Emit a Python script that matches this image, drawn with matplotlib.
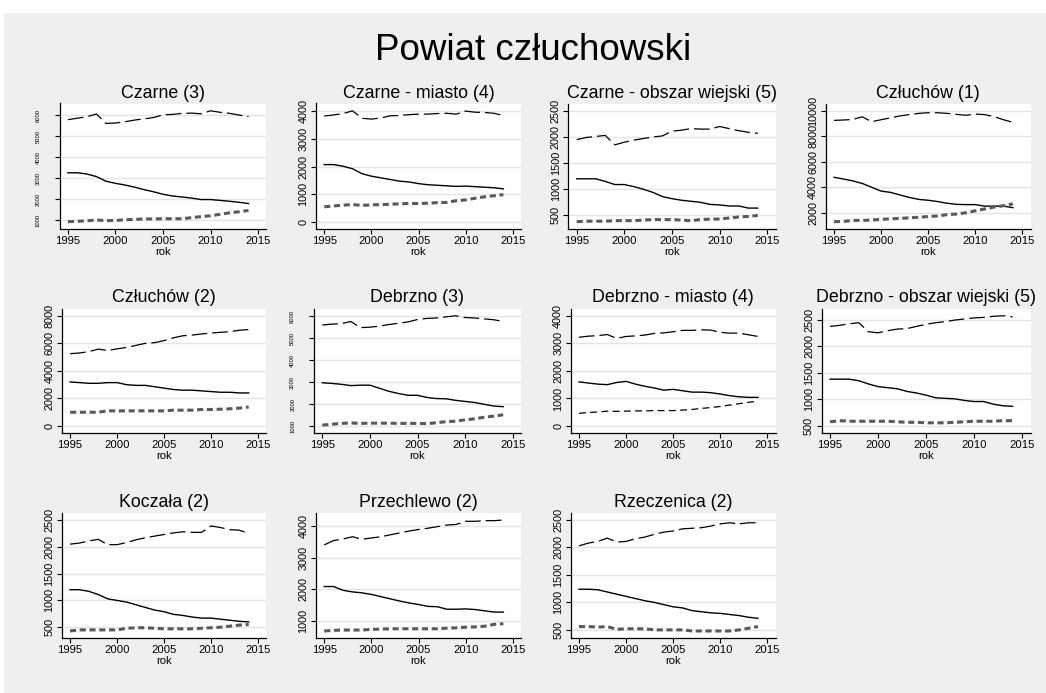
import matplotlib
matplotlib.use("Agg")
import matplotlib.pyplot as plt
from matplotlib.patches import Rectangle

plt.rcParams["font.family"] = ["Liberation Sans", "DejaVu Sans"]

years = list(range(1995, 2015))
x_ticks = [1995, 2000, 2005, 2010, 2015]

titles = ["Czarne (3)", "Czarne - miasto (4)", "Czarne - obszar wiejski (5)", "Człuchów (1)",
          "Człuchów (2)", "Debrzno (3)", "Debrzno - miasto (4)", "Debrzno - obszar wiejski (5)",
          "Koczała (2)", "Przechlewo (2)", "Rzeczenica (2)"]

# working age (long dash), pre-working (solid), post-working (short dash)
czarne3_top = [5780, 5850, 5920, 6050, 5600, 5620, 5680, 5760, 5820, 5880, 6010, 6030, 6080, 6090, 6060, 6200, 6130, 6080, 6000, 5930]
czarne3_mid = [3260, 3260, 3200, 3080, 2860, 2760, 2680, 2580, 2460, 2360, 2240, 2160, 2110, 2060, 1990, 1990, 1950, 1910, 1860, 1800]
czarne3_low = [940, 960, 980, 1020, 990, 1000, 1030, 1050, 1070, 1070, 1080, 1080, 1080, 1130, 1180, 1220, 1290, 1360, 1410, 1470]

czarne4_top = [3830, 3870, 3920, 4020, 3750, 3720, 3760, 3840, 3850, 3880, 3900, 3900, 3920, 3930, 3900, 4010, 3970, 3960, 3930, 3850]
czarne4_mid = [2070, 2070, 2010, 1920, 1740, 1650, 1590, 1530, 1470, 1440, 1380, 1340, 1320, 1300, 1280, 1290, 1270, 1250, 1230, 1190]
czarne4_low = [540, 570, 600, 620, 590, 610, 620, 630, 650, 660, 660, 670, 690, 700, 760, 790, 850, 900, 940, 980]

czarne5_top = [1950, 1990, 2010, 2030, 1850, 1900, 1940, 1970, 2000, 2020, 2110, 2130, 2160, 2150, 2150, 2200, 2160, 2120, 2090, 2070]
czarne5_mid = [1200, 1200, 1200, 1150, 1090, 1090, 1050, 1000, 940, 860, 820, 790, 770, 750, 710, 700, 680, 680, 640, 640]
czarne5_low = [380, 390, 390, 390, 400, 400, 400, 410, 420, 420, 420, 410, 400, 420, 430, 430, 450, 470, 480, 500]

czluchow1_top = [9250, 9280, 9320, 9530, 9150, 9300, 9450, 9600, 9700, 9800, 9850, 9850, 9800, 9720, 9650, 9750, 9700, 9550, 9300, 9100]
czluchow1_mid = [4780, 4650, 4500, 4300, 4000, 3700, 3600, 3400, 3200, 3050, 2980, 2880, 2750, 2660, 2640, 2640, 2520, 2520, 2520, 2400]
czluchow1_low = [1300, 1320, 1400, 1400, 1430, 1480, 1520, 1560, 1600, 1650, 1700, 1750, 1850, 1900, 2000, 2150, 2300, 2450, 2550, 2700]

czluchow2_top = [5250, 5300, 5400, 5580, 5480, 5600, 5700, 5850, 6000, 6050, 6200, 6400, 6550, 6600, 6680, 6750, 6800, 6850, 6950, 7000]
czluchow2_mid = [3200, 3150, 3100, 3100, 3150, 3150, 3000, 2950, 2950, 2850, 2750, 2650, 2600, 2600, 2550, 2500, 2450, 2450, 2400, 2400]
czluchow2_low = [1000, 1000, 1000, 1000, 1100, 1100, 1100, 1100, 1100, 1100, 1100, 1150, 1150, 1150, 1200, 1200, 1220, 1250, 1300, 1380]

debrzno3_top = [5600, 5640, 5660, 5760, 5480, 5500, 5550, 5620, 5680, 5740, 5850, 5900, 5920, 5970, 6020, 5940, 5920, 5880, 5840, 5760]
debrzno3_mid = [2970, 2940, 2900, 2840, 2860, 2860, 2720, 2580, 2480, 2400, 2400, 2300, 2250, 2240, 2170, 2120, 2070, 1990, 1910, 1880]
debrzno3_low = [1040, 1080, 1120, 1140, 1120, 1130, 1130, 1130, 1120, 1120, 1120, 1110, 1150, 1200, 1220, 1280, 1330, 1400, 1450, 1510]

debrzno4_top = [3220, 3260, 3280, 3320, 3180, 3250, 3270, 3300, 3360, 3380, 3420, 3470, 3470, 3490, 3480, 3400, 3370, 3370, 3310, 3250]
debrzno4_mid = [1600, 1560, 1520, 1500, 1580, 1620, 1520, 1440, 1380, 1300, 1330, 1280, 1230, 1230, 1210, 1160, 1100, 1060, 1040, 1040]
debrzno4_low = [460, 490, 510, 540, 530, 540, 550, 550, 560, 560, 560, 580, 600, 640, 670, 710, 760, 810, 860, 900]

debrzno5_top = [2370, 2390, 2420, 2440, 2270, 2250, 2290, 2320, 2330, 2370, 2410, 2440, 2460, 2490, 2510, 2530, 2540, 2560, 2570, 2550]
debrzno5_mid = [1380, 1380, 1380, 1350, 1290, 1240, 1220, 1200, 1150, 1120, 1080, 1030, 1020, 1010, 980, 960, 960, 910, 880, 870]
debrzno5_low = [580, 600, 590, 590, 590, 590, 590, 580, 570, 570, 560, 560, 560, 570, 580, 590, 590, 590, 600, 600]

koczala_top = [2050, 2070, 2110, 2140, 2040, 2040, 2080, 2130, 2170, 2200, 2230, 2260, 2280, 2270, 2270, 2390, 2360, 2320, 2310, 2250]
koczala_mid = [1200, 1200, 1170, 1110, 1030, 1000, 970, 920, 870, 820, 790, 740, 720, 690, 670, 670, 650, 630, 610, 600]
koczala_low = [430, 450, 450, 450, 450, 450, 480, 490, 490, 480, 470, 470, 470, 470, 480, 490, 500, 520, 540, 550]

przechlewo_top = [3400, 3540, 3590, 3660, 3580, 3620, 3660, 3720, 3780, 3840, 3890, 3930, 3980, 4030, 4050, 4150, 4150, 4170, 4170, 4190]
przechlewo_mid = [2080, 2080, 1960, 1910, 1880, 1830, 1760, 1690, 1620, 1560, 1510, 1450, 1440, 1360, 1360, 1370, 1350, 1310, 1270, 1270]
przechlewo_low = [670, 690, 700, 700, 700, 720, 730, 740, 740, 740, 740, 740, 740, 760, 770, 790, 800, 820, 880, 900]

rzeczenica_top = [2030, 2080, 2110, 2170, 2100, 2110, 2160, 2190, 2240, 2280, 2300, 2340, 2350, 2360, 2390, 2430, 2450, 2430, 2450, 2450]
rzeczenica_mid = [1240, 1240, 1230, 1190, 1150, 1110, 1070, 1030, 1000, 960, 920, 900, 850, 830, 810, 800, 780, 760, 730, 710]
rzeczenica_low = [560, 560, 550, 560, 510, 520, 520, 520, 500, 500, 500, 500, 480, 480, 480, 480, 480, 500, 530, 560]

y_ticks = [
    [1000, 2000, 3000, 4000, 5000, 6000],
    [0, 1000, 2000, 3000, 4000],
    [500, 1000, 1500, 2000, 2500],
    [2000, 4000, 6000, 8000, 10000],
    [0, 2000, 4000, 6000, 8000],
    [1000, 2000, 3000, 4000, 5000, 6000],
    [0, 1000, 2000, 3000, 4000],
    [500, 1000, 1500, 2000, 2500],
    [500, 1000, 1500, 2000, 2500],
    [1000, 2000, 3000, 4000],
    [500, 1000, 1500, 2000, 2500],
]

series = [
    (czarne3_top, czarne3_mid, czarne3_low),
    (czarne4_top, czarne4_mid, czarne4_low),
    (czarne5_top, czarne5_mid, czarne5_low),
    (czluchow1_top, czluchow1_mid, czluchow1_low),
    (czluchow2_top, czluchow2_mid, czluchow2_low),
    (debrzno3_top, debrzno3_mid, debrzno3_low),
    (debrzno4_top, debrzno4_mid, debrzno4_low),
    (debrzno5_top, debrzno5_mid, debrzno5_low),
    (koczala_top, koczala_mid, koczala_low),
    (przechlewo_top, przechlewo_mid, przechlewo_low),
    (rzeczenica_top, rzeczenica_mid, rzeczenica_low),
]

W, H = 1046, 693
fig = plt.figure(figsize=(W / 100, H / 100), dpi=100, facecolor="white")
fig.patches.append(Rectangle((4 / W, 0), 1 - 4 / W, 1 - 13 / H, transform=fig.transFigure,
                             facecolor="#efefef", edgecolor="none", zorder=-10))

fig.text(533 / W, 1 - 60.5 / H, "Powiat człuchowski", ha="center", va="baseline",
         fontsize=26.5, color="black")

lefts = [59.7, 316, 568.4, 825.8, 61.9, 314, 570.8, 821.7, 61.8, 316, 570.8]
rights = [266.3, 521, 775.6, 1030.5]
row_top = [103.5, 308.5, 512.7]
row_bot = [229, 433.3, 638.3]
tiny = {0, 5}

for i, (title, (top, mid, low)) in enumerate(zip(titles, series)):
    r, c = divmod(i, 4)
    l = lefts[i]
    rt = rights[c]
    t = row_top[r]
    b = row_bot[r]
    ax = fig.add_axes([l / W, 1 - b / H, (rt - l) / W, (b - t) / H])
    ax.set_facecolor("white")
    ax.plot(years, top, color="black", lw=0.9, dashes=(12.5, 4), solid_capstyle="butt")
    ax.plot(years, mid, color="black", lw=1.0)
    if i == 6:
        ax.plot(years, low, color="black", lw=0.9, dashes=(5.5, 3.5))
    else:
        ax.plot(years, low, color="#595959", lw=2.2, dashes=(2.0, 1.2))
    yt = y_ticks[i]
    lo = min(min(top), min(mid), min(low), yt[0])
    hi = max(max(top), max(mid), max(low), yt[-1])
    pad = 0.066 * (hi - lo)
    ax.set_ylim(lo - pad, hi + pad)
    ax.set_xlim(1994.13, 2015.87)
    ax.set_xticks(x_ticks)
    ax.set_yticks(yt)
    ax.grid(axis="y", color="#e4e4e4", lw=1.0)
    ax.set_axisbelow(True)
    for s in ("top", "right"):
        ax.spines[s].set_visible(False)
    for s in ("left", "bottom"):
        ax.spines[s].set_linewidth(0.9)
    ax.tick_params(axis="x", labelsize=8.1, length=3.5, width=0.8, pad=1.5)
    if i in tiny:
        ax.tick_params(axis="y", labelsize=4.2, length=3.5, width=0.8, pad=10)
    else:
        ax.tick_params(axis="y", labelsize=7.8, length=3.5, width=0.8, pad=2)
    for lab in ax.get_yticklabels():
        lab.set_rotation(90)
        lab.set_va("center")
    ax.set_xlabel("rok", fontsize=8.1, labelpad=0.5)
    fig.text((l + rt) / 2 / W, 1 - (t - 6) / H, title, ha="center", va="baseline", fontsize=12.8)

fig.savefig("out.png", dpi=100, facecolor=fig.get_facecolor())
